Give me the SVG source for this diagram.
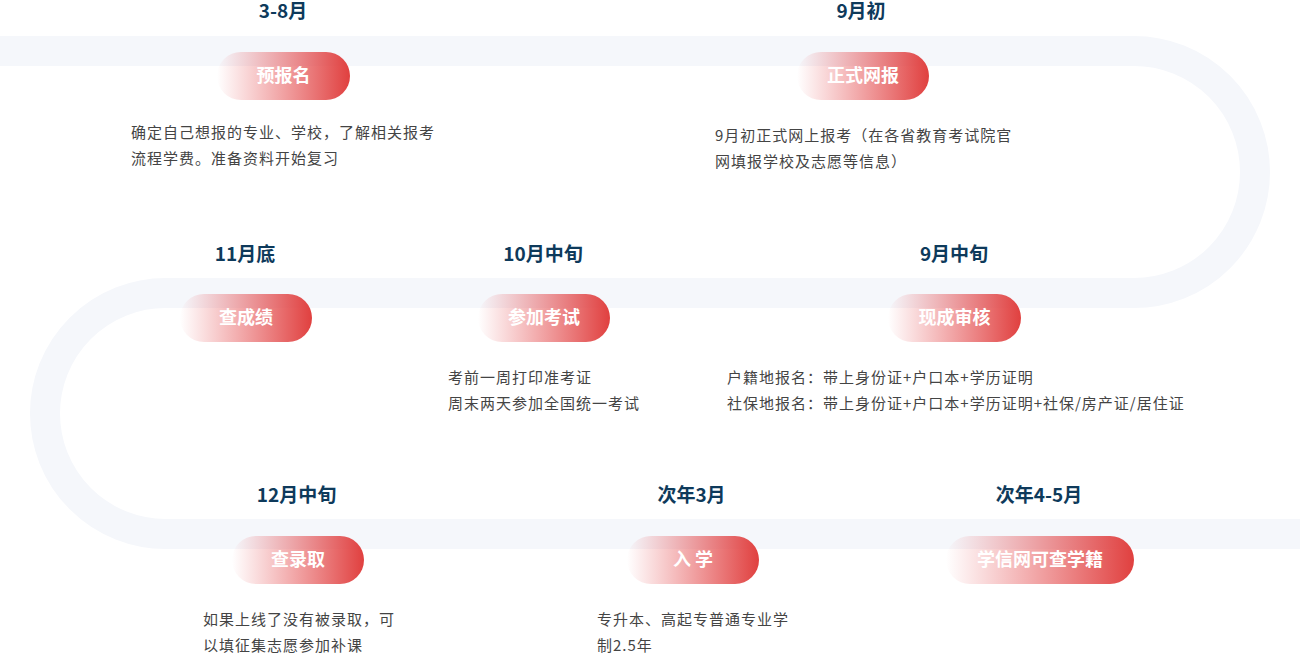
<svg xmlns="http://www.w3.org/2000/svg" width="1300" height="653" viewBox="0 0 1300 653">
<defs>
<linearGradient id="pillGrad" x1="0" y1="0" x2="1" y2="0">
<stop offset="0" stop-color="#e5484d" stop-opacity="0"/>
<stop offset="1" stop-color="#e0403f" stop-opacity="1"/>
</linearGradient>
<style>
.pill{fill:url(#pillGrad);}
.ptxt{font-family:"Noto Sans CJK SC","Noto Sans",sans-serif;font-size:18px;font-weight:700;fill:#ffffff;text-anchor:middle;}
.title{font-family:"Noto Sans CJK SC","Noto Sans",sans-serif;font-size:19px;font-weight:700;fill:#0e3a5b;text-anchor:middle;}
.desc{font-family:"Noto Sans CJK SC","Noto Sans",sans-serif;font-size:15px;letter-spacing:1px;fill:#444444;}
.track{fill:none;stroke:#f5f7fb;stroke-width:30;}
</style>
</defs>
<rect width="1300" height="653" fill="#ffffff"/>
<g id="connectors">
<path class="track" d="M0,51 H1134 A121,121 0 0 1 1134,293 H165.5 A120.5,120.5 0 0 0 165.5,534 H1300"/>
</g>
<g id="node-yubaoming">
<text class="title" x="283" y="18">3-8月</text>
<rect class="pill" x="217" y="52" width="133" height="48" rx="24"/>
<text class="ptxt" x="283.5" y="82">预报名</text>
<text class="desc" x="131" y="137.5">确定自己想报的专业、学校，了解相关报考</text>
<text class="desc" x="131" y="164">流程学费。准备资料开始复习</text>
</g>
<g id="node-zhengshiwangbao">
<text class="title" x="861" y="18">9月初</text>
<rect class="pill" x="797" y="52" width="132" height="48" rx="24"/>
<text class="ptxt" x="863" y="82">正式网报</text>
<text class="desc" x="715" y="140.5">9月初正式网上报考（在各省教育考试院官</text>
<text class="desc" x="715" y="167">网填报学校及志愿等信息）</text>
</g>
<g id="node-xianchengshenhe">
<text class="title" x="954" y="261">9月中旬</text>
<rect class="pill" x="888" y="294" width="133" height="48" rx="24"/>
<text class="ptxt" x="954.5" y="324">现成审核</text>
<text class="desc" x="727" y="383">户籍地报名：带上身份证+户口本+学历证明</text>
<text class="desc" x="727" y="409">社保地报名：带上身份证+户口本+学历证明+社保/房产证/居住证</text>
</g>
<g id="node-canjiakaoshi">
<text class="title" x="543" y="261">10月中旬</text>
<rect class="pill" x="478" y="294" width="132" height="48" rx="24"/>
<text class="ptxt" x="544" y="324">参加考试</text>
<text class="desc" x="448" y="383">考前一周打印准考证</text>
<text class="desc" x="448" y="409">周末两天参加全国统一考试</text>
</g>
<g id="node-chachengji">
<text class="title" x="245" y="261">11月底</text>
<rect class="pill" x="180" y="294" width="132" height="48" rx="24"/>
<text class="ptxt" x="246" y="324">查成绩</text>
</g>
<g id="node-chaluqu">
<text class="title" x="296.5" y="502">12月中旬</text>
<rect class="pill" x="232" y="536" width="132" height="48" rx="24"/>
<text class="ptxt" x="298" y="566">查录取</text>
<text class="desc" x="203" y="625">如果上线了没有被录取，可</text>
<text class="desc" x="203" y="651">以填征集志愿参加补课</text>
</g>
<g id="node-ruxue">
<text class="title" x="691.5" y="502">次年3月</text>
<rect class="pill" x="627" y="536" width="132" height="48" rx="24"/>
<text class="ptxt" x="693" y="566">入 学</text>
<text class="desc" x="597" y="625">专升本、高起专普通专业学</text>
<text class="desc" x="597" y="651">制2.5年</text>
</g>
<g id="node-xuexinwang">
<text class="title" x="1039" y="502">次年4-5月</text>
<rect class="pill" x="946" y="536" width="188" height="48" rx="24"/>
<text class="ptxt" x="1040" y="566">学信网可查学籍</text>
</g>
</svg>
